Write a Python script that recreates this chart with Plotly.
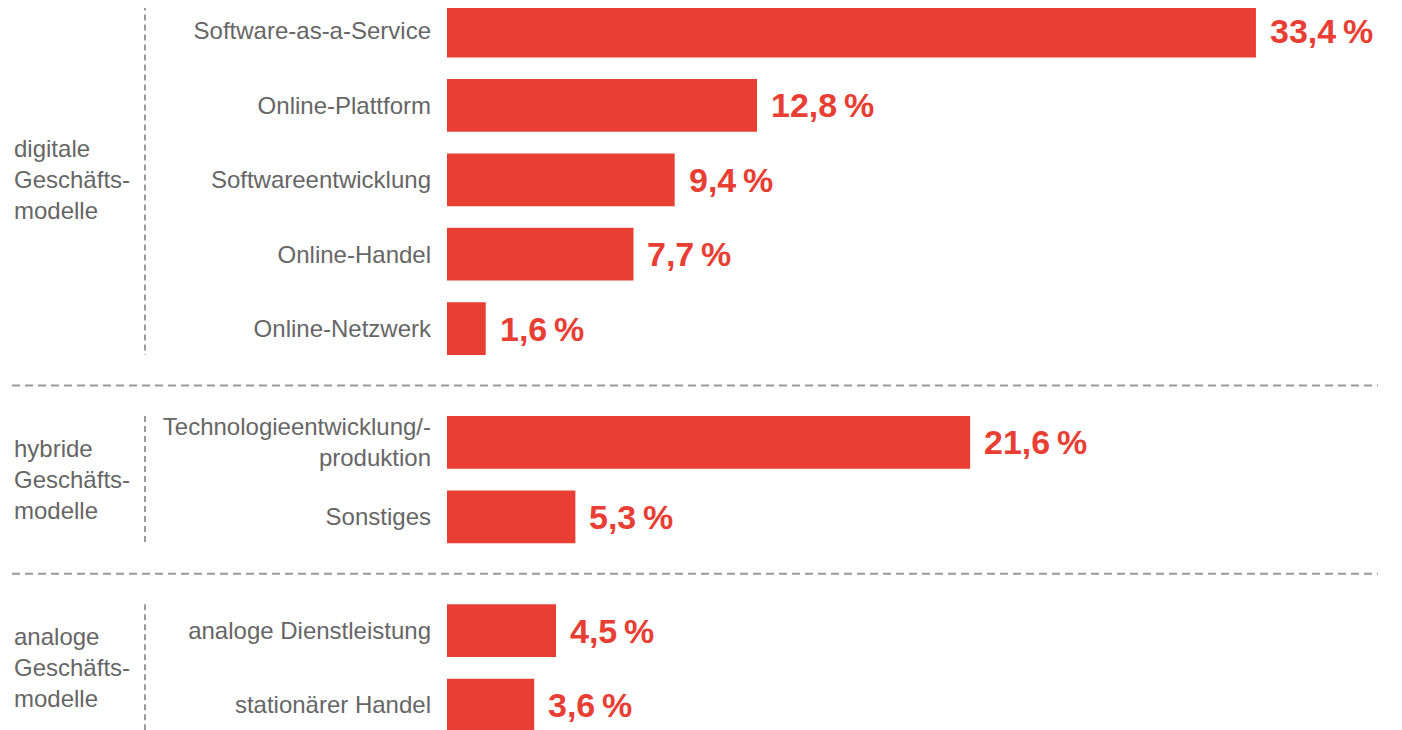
import plotly.graph_objects as go

RED = "#e83e33"
GREY_TEXT = "#666666"
DASH_GREY = "#9a9a9a"
WHITE = "#ffffff"
FONT = "Liberation Sans, Arial, Helvetica, sans-serif"

# data
groups = ["digitale<br>Geschäfts-<br>modelle",
          "hybride<br>Geschäfts-<br>modelle",
          "analoge<br>Geschäfts-<br>modelle"]
categories = [
    ["Software-as-a-Service", "Online-Plattform", "Softwareentwicklung",
     "Online-Handel", "Online-Netzwerk"],
    ["Technologieentwicklung/-<br>produktion", "Sonstiges"],
    ["analoge Dienstleistung", "stationärer Handel"],
]
values = [
    [33.4, 12.8, 9.4, 7.7, 1.6],
    [21.6, 5.3],
    [4.5, 3.6],
]

# layout geometry (page has an 8px body margin)
OFF = 8
W, H = 1402, 730
LEFT = 447 - OFF      # px where bars start
PX_PER_UNIT = 24.22   # px per percent
ROW_PX = 74.4
GAP = 0.53            # extra space between groups (in rows)
BAR_W = 0.71

# row positions
pos, labels, vals, group_pos = [], [], [], []
i = 0
for g, (cats, vs) in enumerate(zip(categories, values)):
    start = i + g * GAP
    for c, v in zip(cats, vs):
        pos.append(i + g * GAP)
        labels.append(c)
        vals.append(v)
        i += 1
    group_pos.append((start, i - 1 + g * GAP))

y_top = -(31 - OFF) / ROW_PX
y_bot = y_top + H / ROW_PX
x_max = (W - LEFT) / PX_PER_UNIT


def px_to_paper(px):
    return (px - OFF - LEFT) / (W - LEFT)


fig = go.Figure(go.Bar(
    x=vals, y=pos, orientation="h", width=BAR_W,
    marker=dict(color=RED, line=dict(width=0)),
    hoverinfo="skip",
))

for p, v in zip(pos, vals):
    fig.add_annotation(
        x=v, y=p, xref="x", yref="y", xanchor="left", yanchor="middle",
        xshift=12, showarrow=False,
        text=f"<b>{v:.1f}".replace(".", ",") + "\u2009%</b>",
        font=dict(family=FONT, size=34, color=RED),
    )

shapes = []
# vertical dashed lines per group + group labels
for (a, b), gl in zip(group_pos, groups):
    shapes.append(dict(
        type="line", xref="paper", yref="y",
        x0=px_to_paper(145), x1=px_to_paper(145),
        y0=a - BAR_W / 2, y1=b + BAR_W / 2,
        line=dict(color=DASH_GREY, width=2, dash="6px,4px"),
    ))
    fig.add_annotation(
        x=px_to_paper(12), y=(a + b) / 2, xref="paper", yref="y",
        xanchor="left", yanchor="middle", align="left", showarrow=False,
        text=gl, font=dict(family=FONT, size=24, color=GREY_TEXT),
    )

# horizontal separators between groups
for (a0, b0), (a1, b1) in zip(group_pos[:-1], group_pos[1:]):
    ymid = (b0 + a1) / 2
    shapes.append(dict(
        type="line", xref="paper", yref="y",
        x0=px_to_paper(12), x1=px_to_paper(1378),
        y0=ymid, y1=ymid,
        line=dict(color=DASH_GREY, width=2, dash="8px,5px"),
    ))

fig.update_layout(
    width=W, height=H,
    paper_bgcolor=WHITE, plot_bgcolor=WHITE,
    margin=dict(l=LEFT, r=0, t=0, b=0),
    showlegend=False,
    shapes=shapes,
    font=dict(family=FONT, color=GREY_TEXT),
    xaxis=dict(range=[0, x_max], visible=False, fixedrange=True),
    yaxis=dict(
        range=[y_bot, y_top], tickvals=pos, ticktext=labels,
        showgrid=False, zeroline=False, showline=False, ticks="",
        ticklabelstandoff=15, fixedrange=True,
        tickfont=dict(family=FONT, size=24, color=GREY_TEXT),
    ),
)

fig.write_html("out.html")
